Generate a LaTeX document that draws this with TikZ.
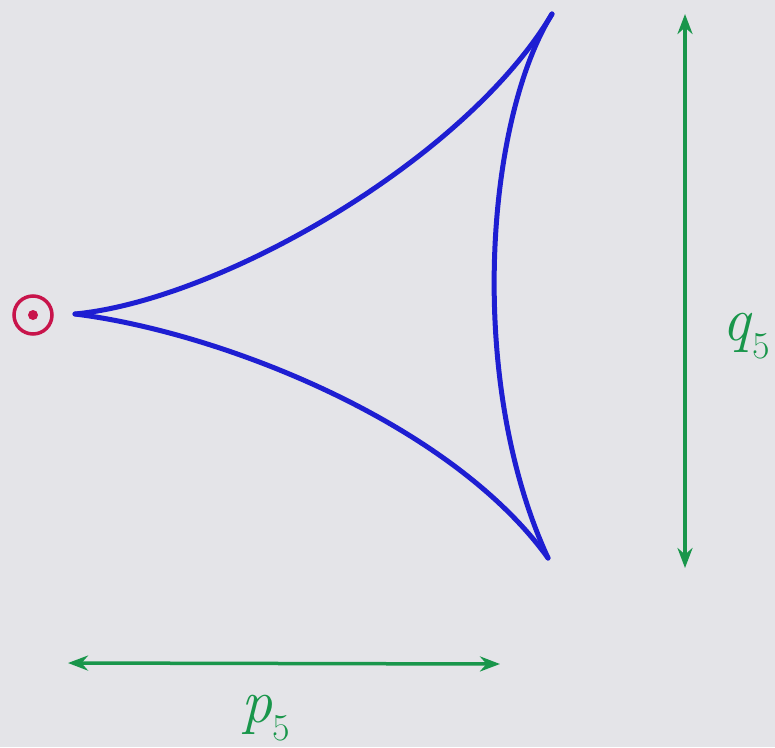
\documentclass[tikz,border=0pt]{standalone}
\usepackage{fontspec}
\usetikzlibrary{arrows.meta}
\definecolor{paper}{RGB}{228,228,232}
\definecolor{curveblue}{RGB}{30,30,210}
\definecolor{arrowgreen}{RGB}{25,150,75}
\definecolor{pointred}{RGB}{200,20,75}
\newcommand{\dimsym}[2]{\textit{#1}\raisebox{-0.28em}{\fontsize{38}{38}\selectfont #2}}
\tikzset{
  curve/.style={curveblue, line width=5pt, line cap=round, line join=round},
  dimarrow/.style={arrowgreen, line width=3.5pt, {Stealth[length=20pt,width=15pt]}-{Stealth[length=20pt,width=15pt]}},
  dimlabel/.style={arrowgreen, inner sep=0pt, font=\fontsize{62}{62}\selectfont},
}
\begin{document}
\begin{tikzpicture}[x=1pt,y=-1pt]
  \fill[paper] (0,0) rectangle (775,747);
  \useasboundingbox (0,0) rectangle (775,747);
  % cusps
  \coordinate (L) at (75,314);
  \coordinate (T) at (552,14);
  \coordinate (B) at (548,558);
  % deltoid
  \draw[curve] (L) .. controls (220,300) and (465,160) .. (T);
  \draw[curve] (L) .. controls (220,332) and (450,422) .. (B);
  \draw[curve] (T) .. controls (486,120) and (466,380) .. (B);
  % red point
  \node (pt) [circle, draw=pointred, line width=3.5pt, minimum size=38pt, inner sep=0pt] at (33,315) {};
  \fill[pointred] (pt.center) circle (5pt);
  % vertical dimension
  \coordinate (qtop) at (685,14);
  \coordinate (qbot) at (685,568);
  \draw[dimarrow] (qtop) -- (qbot);
  \node (q) [dimlabel] at (746,336) {\dimsym{q}{5}};
  % horizontal dimension
  \coordinate (pl) at (68,663);
  \coordinate (pr) at (500,664);
  \draw[dimarrow] (pl) -- (pr);
  \node (p) [dimlabel] at (266,718) {\dimsym{p}{5}};
\end{tikzpicture}
\end{document}
